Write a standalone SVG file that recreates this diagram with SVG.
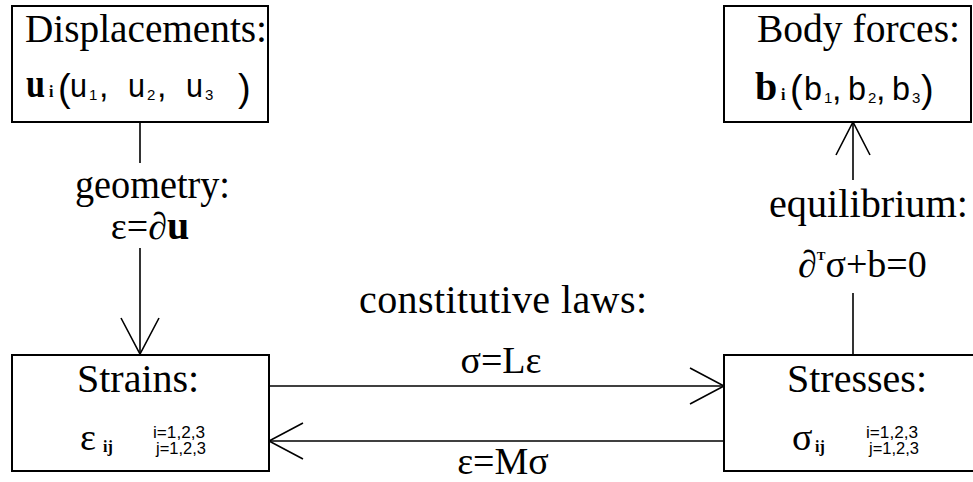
<svg xmlns="http://www.w3.org/2000/svg" width="973" height="482" viewBox="0 0 973 482">
<defs>
<style>
.box{fill:#fff;stroke:#000;stroke-width:2}
.ln{fill:none;stroke:#000;stroke-width:1.6}
.h{font-family:"Liberation Serif","Times New Roman",serif;font-size:40px;fill:#000}
.m{font-family:"Liberation Serif","Times New Roman",serif;font-size:38px;fill:#000}
.bm{font-family:"Liberation Serif","Times New Roman",serif;font-size:40px;font-weight:bold;fill:#000}
.s{font-family:"Liberation Sans",Arial,sans-serif;fill:#000}
.u{font-family:"Liberation Sans",Arial,sans-serif;font-size:34px;fill:#000}
.n{font-family:"Liberation Sans",Arial,sans-serif;font-size:15px;fill:#000}
.sub{font-family:"Liberation Serif","Times New Roman",serif;font-weight:bold;font-size:16px;fill:#000}
.idx{font-family:"Liberation Sans",Arial,sans-serif;font-size:16px;fill:#000}
</style>
</defs>
<rect width="973" height="482" fill="#fff"/>

<g id="connectors">
  <line class="ln" x1="140" y1="122" x2="140" y2="163"/>
  <line class="ln" x1="140" y1="248" x2="140" y2="354"/>
  <polyline class="ln" points="121,318 140,354 159,318"/>
  <line class="ln" x1="853" y1="355" x2="853" y2="293"/>
  <line class="ln" x1="853" y1="180" x2="853" y2="122"/>
  <polyline class="ln" points="836,155 853,122 870,155"/>
  <line class="ln" x1="269" y1="386" x2="724" y2="386"/>
  <polyline class="ln" points="690,368 724,386 690,404"/>
  <line class="ln" x1="724" y1="441" x2="269" y2="441"/>
  <polyline class="ln" points="303,423 269,441 303,459"/>
  <text class="h" x="75" y="198" textLength="155" lengthAdjust="spacingAndGlyphs">geometry:</text>
  <text class="m" x="150" y="239" text-anchor="middle">ε=∂<tspan class="bm" font-size="38">u</tspan></text>
  <text class="h" x="769" y="217" textLength="199" lengthAdjust="spacingAndGlyphs">equilibrium:</text>
  <text class="m" x="798" y="277">∂<tspan font-size="13" font-weight="bold" dy="-17">T</tspan><tspan dy="17">σ+b=0</tspan></text>
  <text class="h" x="359" y="313" textLength="288" lengthAdjust="spacing">constitutive  laws:</text>
  <text class="m" x="501" y="373" text-anchor="middle">σ=Lε</text>
  <text class="m" x="503" y="474" text-anchor="middle">ε=Mσ</text>
</g>

<g id="displacements">
  <rect class="box" x="12" y="6" width="256" height="116"/>
  <text class="h" x="25" y="42" textLength="242" lengthAdjust="spacingAndGlyphs">Displacements:</text>
  <text class="bm" x="26" y="97" textLength="19" lengthAdjust="spacingAndGlyphs">u</text>
  <text class="sub" x="49" y="97">i</text>
  <text class="s" x="58" y="101" font-size="38">(</text>
  <text class="u" x="70" y="97" textLength="17" lengthAdjust="spacingAndGlyphs">u</text>
  <text class="n" x="89" y="100">1</text>
  <text class="u" x="99" y="97">,</text>
  <text class="u" x="128" y="97" textLength="17" lengthAdjust="spacingAndGlyphs">u</text>
  <text class="n" x="147" y="100">2</text>
  <text class="u" x="157" y="97">,</text>
  <text class="u" x="186" y="97" textLength="17" lengthAdjust="spacingAndGlyphs">u</text>
  <text class="n" x="205" y="100">3</text>
  <text class="s" x="238" y="101" font-size="38">)</text>
</g>

<g id="body-forces">
  <rect class="box" x="724" y="6" width="247" height="116"/>
  <text class="h" x="757" y="42" textLength="203" lengthAdjust="spacingAndGlyphs">Body  forces:</text>
  <text class="bm" x="755" y="100">b</text>
  <text class="sub" x="781" y="100">i</text>
  <text class="s" x="790" y="102" font-size="38">(</text>
  <text class="u" x="804" y="100" textLength="18" lengthAdjust="spacingAndGlyphs">b</text>
  <text class="n" x="824" y="103">1</text>
  <text class="u" x="832" y="100">,</text>
  <text class="u" x="848" y="100" textLength="18" lengthAdjust="spacingAndGlyphs">b</text>
  <text class="n" x="868" y="103">2</text>
  <text class="u" x="876" y="100">,</text>
  <text class="u" x="892" y="100" textLength="18" lengthAdjust="spacingAndGlyphs">b</text>
  <text class="n" x="912" y="103">3</text>
  <text class="s" x="921" y="102" font-size="38">)</text>
</g>

<g id="strains">
  <rect class="box" x="12" y="355" width="257" height="116"/>
  <text class="h" x="77" y="392">Strains:</text>
  <text class="m" x="80" y="450" font-size="46">ε</text>
  <text class="sub" x="103" y="452">ij</text>
  <text class="idx" x="153" y="438" textLength="52" lengthAdjust="spacingAndGlyphs">i=1,2,3</text>
  <text class="idx" x="156" y="454" textLength="50" lengthAdjust="spacingAndGlyphs">j=1,2,3</text>
</g>

<g id="stresses">
  <rect class="box" x="724" y="355" width="252" height="116"/>
  <text class="h" x="787" y="392">Stresses:</text>
  <text class="m" x="792" y="450" font-size="46">σ</text>
  <text class="sub" x="815" y="452">ij</text>
  <text class="idx" x="866" y="438" textLength="52" lengthAdjust="spacingAndGlyphs">i=1,2,3</text>
  <text class="idx" x="869" y="454" textLength="50" lengthAdjust="spacingAndGlyphs">j=1,2,3</text>
</g>
</svg>
